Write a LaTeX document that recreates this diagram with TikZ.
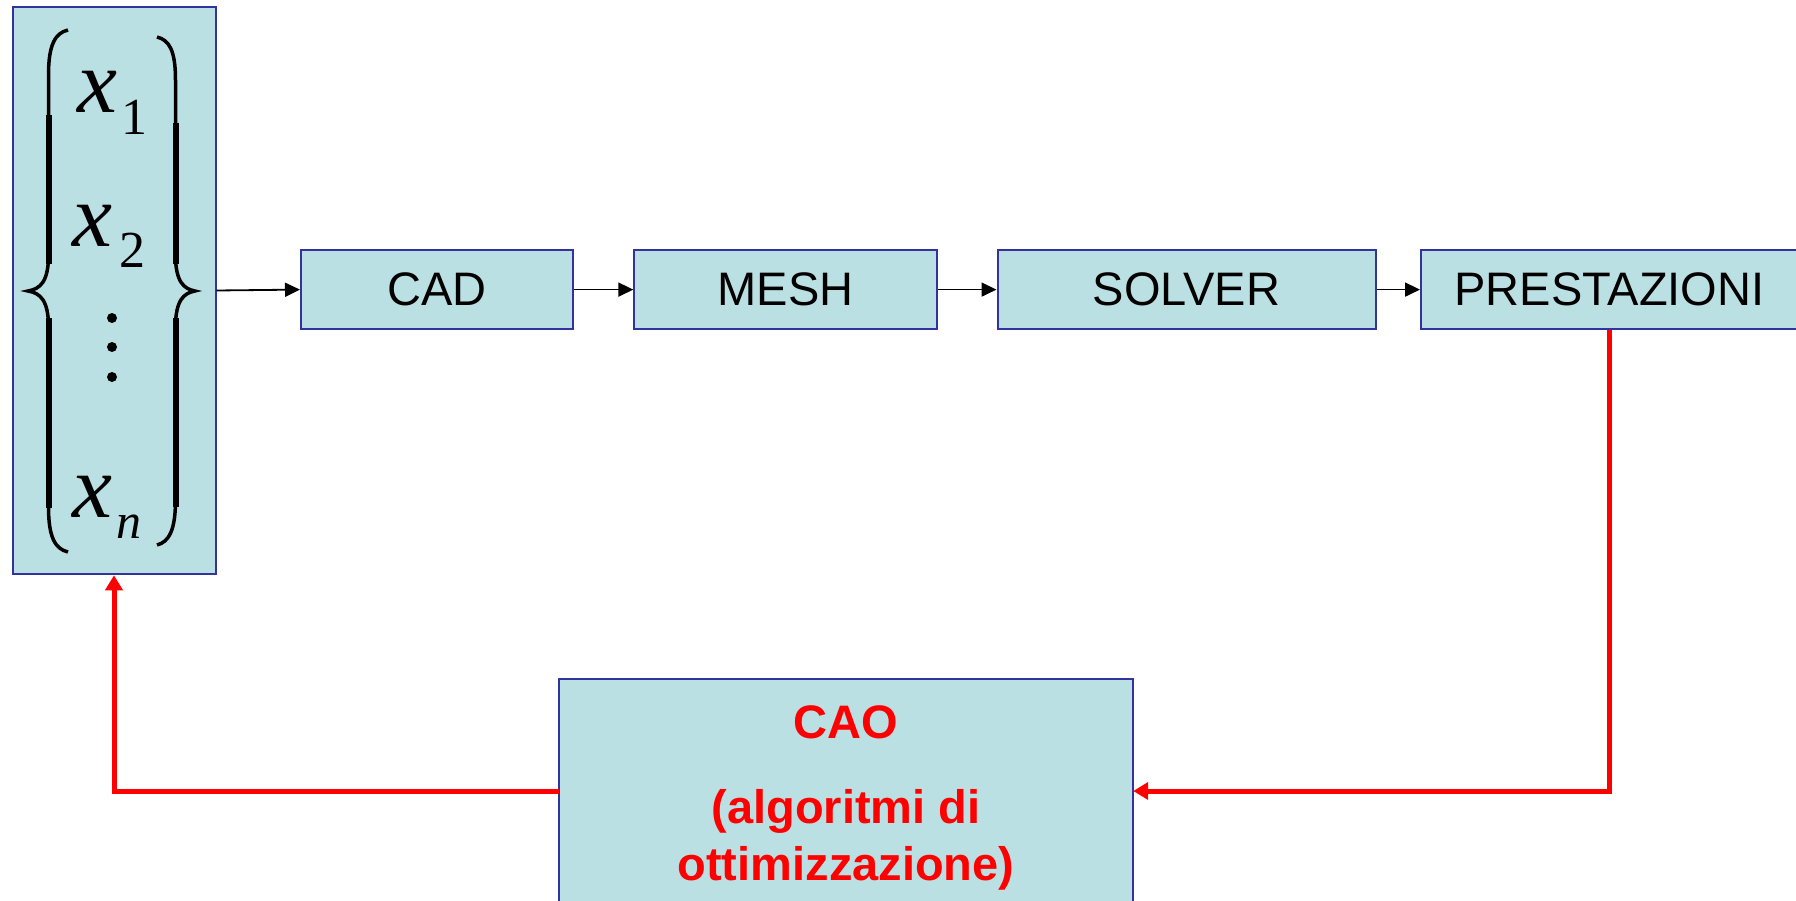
\documentclass[tikz,border=0pt]{standalone}
\usepackage{fontspec}
\setmainfont{Liberation Sans}
\newfontfamily\mytimes{Liberation Serif}
\usetikzlibrary{arrows.meta}
\newcommand\myboxfont{\fontsize{47}{56}\selectfont}
\newcommand\mycaofont{\bfseries\fontsize{47}{56}\selectfont}
\newcommand\myxfont{\mytimes\itshape\fontsize{90}{95}\selectfont}
\newcommand\mysubfont{\mytimes\fontsize{52}{56}\selectfont}
\newcommand\mysubifont{\mytimes\itshape\fontsize{50}{56}\selectfont}
\definecolor{boxblue}{RGB}{51,51,160}
\definecolor{boxfill}{RGB}{187,224,227}
\definecolor{fbred}{RGB}{255,0,0}
\tikzset{
  blockbox/.style={draw=boxblue, fill=boxfill, line width=2pt, inner sep=0pt, font=\myboxfont},
  flowarrow/.style={line width=1.8pt, -{Triangle[length=15pt,width=14pt]}},
  fbarrow/.style={draw=fbred, line width=5pt, -{Triangle[length=15pt,width=17pt]}},
  caotxt/.style={text=fbred, font=\mycaofont, anchor=base, inner sep=0pt},
  xtxt/.style={font=\myxfont, anchor=base west, inner sep=0pt},
  subtxt/.style={font=\mysubfont, anchor=base west, inner sep=0pt},
  subitxt/.style={font=\mysubifont, anchor=base west, inner sep=0pt},
  bracethin/.style={line width=3.5pt},
  bracethick/.style={line width=6pt, line cap=butt}
}
\begin{document}
\begin{tikzpicture}[x=1pt, y=-1pt]
\clip (0,0) rectangle (1796,901);
\fill[white] (0,0) rectangle (1796,901);
% boxes
\node[blockbox, minimum width=203, minimum height=567.5] (vars) at (114,290.5) {};
\node[blockbox, minimum width=272, minimum height=79] (cad) at (437,289.6) {CAD};
\node[blockbox, minimum width=302.4, minimum height=79] (mesh) at (785.5,289.6) {MESH};
\node[blockbox, minimum width=378, minimum height=79] (solver) at (1186.5,289.6) {SOLVER};
\node[blockbox, minimum width=377, minimum height=79] (prest) at (1609.5,289.6) {PRESTAZIONI};
\node[blockbox, minimum width=574.3, minimum height=300] (cao) at (846,829) {};
% CAO text
\node[caotxt] (cao1) at (846,738) {CAO};
\node[caotxt] (cao2) at (846,823) {(algoritmi di};
\node[caotxt] (cao3) at (846,880) {ottimizzazione)};
% variables
\node[xtxt] (x1) at (77,113) {x};
\node[subtxt] (x1s) at (121,135) {1};
\node[xtxt] (x2) at (72,247) {x};
\node[subtxt] (x2s) at (119,268) {2};
\node[xtxt] (xn) at (72,517) {x};
\node[subitxt] (xns) at (116,538) {n};
\fill (112,318) circle (5);
\fill (112,347) circle (5);
\fill (112,377) circle (5);
% left brace
\draw[bracethin] (68,30) .. controls (55,33) and (48.5,45) .. (48.5,75) -- (48.5,255)
  .. controls (48.5,282) and (40,289) .. (28,291)
  .. controls (40,293) and (48.5,300) .. (48.5,327) -- (48.5,507)
  .. controls (48.5,537) and (55,549) .. (68,552);
\draw[bracethick] (48.5,115) -- (48.5,264);
\draw[bracethick] (48.5,318) -- (48.5,508);
% right brace
\draw[bracethin] (157,37) .. controls (169,40) and (175.5,50) .. (175.5,80) -- (175.5,255)
  .. controls (175.5,282) and (184,289) .. (195,291)
  .. controls (184,293) and (175.5,300) .. (175.5,327) -- (175.5,500)
  .. controls (175.5,530) and (169,542) .. (157,545);
\draw[bracethick] (175.5,123) -- (175.5,264);
\draw[bracethick] (175.5,318) -- (175.5,507);
% forward connectors
\draw[flowarrow] (vars.east) -- (cad.west);
\draw[flowarrow] (cad.east) -- (mesh.west);
\draw[flowarrow] (mesh.east) -- (solver.west);
\draw[flowarrow] (solver.east) -- (prest.west);
% feedback
\coordinate (caoR) at (1133.2,791);
\coordinate (caoL) at (558.8,791);
\draw[fbarrow] (prest.south) |- (caoR);
\draw[fbarrow] (caoL) -| (vars.south);
\end{tikzpicture}
\end{document}
